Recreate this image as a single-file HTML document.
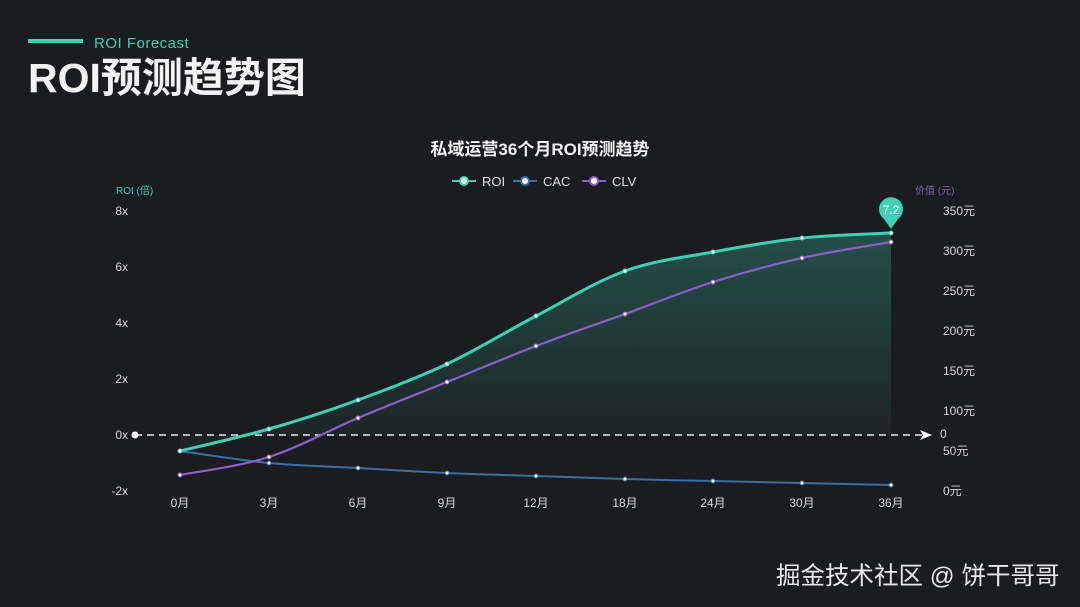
<!DOCTYPE html>
<html><head><meta charset="utf-8"><style>
body{margin:0;width:1080px;height:607px;background:#1b1c20;overflow:hidden;font-family:"Liberation Sans","Noto Sans CJK SC",sans-serif}
</style></head><body>
<svg id="s" width="1080" height="607" xmlns="http://www.w3.org/2000/svg" style="position:absolute;left:0;top:0">
<defs>
<linearGradient id="g" x1="0" y1="0" x2="0" y2="1"><stop offset="0" stop-color="#3fd1b8" stop-opacity="0.28"/><stop offset="1" stop-color="#3fd1b8" stop-opacity="0.03"/></linearGradient>
</defs>
<rect x="28" y="39" width="55" height="4" fill="#3ecfb5"/>
<text x="94" y="48" font-size="15" fill="#3ecfb5" letter-spacing="0.5">ROI Forecast</text>
<text x="28" y="92" font-size="41" font-weight="bold" fill="#f2f2f2">ROI预测趋势图</text>
<text x="540" y="155" font-size="17" font-weight="bold" fill="#f2f2f2" text-anchor="middle">私域运营36个月ROI预测趋势</text>
<g font-size="13" fill="#e0e0e0">
<line x1="452" y1="181" x2="476" y2="181" stroke="#3ecfb5" stroke-width="2"/><circle cx="464" cy="181" r="4" fill="#fff" stroke="#3ecfb5" stroke-width="2"/><text x="482" y="186">ROI</text>
<line x1="513" y1="181" x2="537" y2="181" stroke="#3a6ea5" stroke-width="2"/><circle cx="525" cy="181" r="4" fill="#fff" stroke="#3a6ea5" stroke-width="2"/><text x="543" y="186">CAC</text>
<line x1="582" y1="181" x2="606" y2="181" stroke="#8d5fc8" stroke-width="2"/><circle cx="594" cy="181" r="4" fill="#fff" stroke="#8d5fc8" stroke-width="2"/><text x="612" y="186">CLV</text>
</g>
<text x="116" y="194" font-size="10" fill="#3ecfb5">ROI (倍)</text>
<text x="915" y="194" font-size="10" fill="#7d62b0">价值 (元)</text>
<g font-size="12" fill="#d8d8d8" id="lab"></g>
<g id="plot"></g>
</svg>
<div style="position:absolute;left:776px;top:557px;font-size:24.5px;color:#e8e8e8;font-family:'Liberation Sans','Noto Sans CJK SC',sans-serif">掘金技术社区 @ 饼干哥哥</div>
<script>
const NS="http://www.w3.org/2000/svg";
function el(t,a,p,txt){const e=document.createElementNS(NS,t);for(const k in a)e.setAttribute(k,a[k]);if(txt!==undefined)e.textContent=txt;(p||document.getElementById('plot')).appendChild(e);return e;}
const X=[180,269,358,447,536,625,713,802,891];
const M=["0月","3月","6月","9月","12月","18月","24月","30月","36月"];
const ROI=[451,429,400,364,316,271,252,238,233];
const CLV=[475,457,418,382,346,314,282,258,242];
const CAC=[451,463,468,473,476,479,481,483,485];
const lab=document.getElementById('lab');
[["8x",211],["6x",267],["4x",323],["2x",379],["0x",435],["-2x",491]].forEach(([t,y])=>{el('text',{x:128,y:y+4,'text-anchor':'end'},lab,t);
 if(t!="0x")el('line',{x1:135,y1:y,x2:930,y2:y,stroke:'#222428','stroke-dasharray':'4 4','stroke-width':1});});
[["350元",211],["300元",251],["250元",291],["200元",331],["150元",371],["100元",411],["50元",451],["0元",491]].forEach(([t,y])=>el('text',{x:943,y:y+4},lab,t));
el('text',{x:940,y:438},lab,"0");
M.forEach((m,i)=>el('text',{x:X[i],y:507,'text-anchor':'middle'},lab,m));
function path(Y){let d=`M${X[0]},${Y[0]}`;for(let i=0;i<X.length-1;i++){const p0=[X[Math.max(i-1,0)],Y[Math.max(i-1,0)]],p1=[X[i],Y[i]],p2=[X[i+1],Y[i+1]],p3=[X[Math.min(i+2,8)],Y[Math.min(i+2,8)]];
const c1=[p1[0]+(p2[0]-p0[0])/6,p1[1]+(p2[1]-p0[1])/6],c2=[p2[0]-(p3[0]-p1[0])/6,p2[1]-(p3[1]-p1[1])/6];d+=` C${c1} ${c2} ${p2}`;}return d;}
el('path',{d:path(ROI)+` L891,435 L180,435 Z`,fill:'url(#g)'});
el('line',{x1:135,y1:435,x2:922,y2:435,stroke:'#e8e8e8','stroke-width':1.5,'stroke-dasharray':'7 5'});
el('path',{d:'M920,430 L932,435 L920,440 L923,435 Z',fill:'#fff'});
el('circle',{cx:135,cy:435,r:3.5,fill:'#fff'});
[[CAC,'#3a6ea5',2],[CLV,'#8d5fc8',2.2],[ROI,'#3ecfb5',3]].forEach(([Y,c,w])=>{el('path',{d:path(Y),fill:'none',stroke:c,'stroke-width':w});
Y.forEach((y,i)=>el('circle',{cx:X[i],cy:y,r:2,fill:'#fff',stroke:c,'stroke-width':1}));});
el('path',{d:'M891,229 L884,219 A12,12 0 1 1 898,219 Z',fill:'#3ecfb5'});
el('text',{x:891,y:214,'font-size':12,fill:'#fff','text-anchor':'middle'},null,"7.2");
</script>
</body></html>
